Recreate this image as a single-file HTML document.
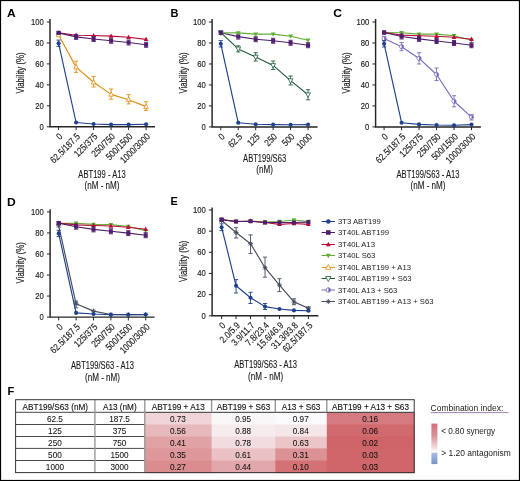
<!DOCTYPE html>
<html><head><meta charset="utf-8"><style>
html,body{margin:0;padding:0;background:#fff;}
svg{display:block;font-family:"Liberation Sans", sans-serif;will-change:transform;}
</style></head><body>
<svg width="520" height="481" viewBox="0 0 520 481">
<rect x="0" y="0" width="520" height="481" fill="#fff"/>
<text transform="translate(7.0,17) scale(1.1,1)" font-size="11" font-weight="bold" fill="#000">A</text>
<path d="M50 19V126.8H155" stroke="#262626" stroke-width="1.45" fill="none"/>
<text transform="translate(43.7,129.55) scale(0.8,1)" text-anchor="end" font-size="9.6" fill="#1a1a1a" stroke="#1a1a1a" stroke-width="0.15">0</text>
<text transform="translate(43.7,108.59) scale(0.8,1)" text-anchor="end" font-size="9.6" fill="#1a1a1a" stroke="#1a1a1a" stroke-width="0.15">20</text>
<text transform="translate(43.7,87.63) scale(0.8,1)" text-anchor="end" font-size="9.6" fill="#1a1a1a" stroke="#1a1a1a" stroke-width="0.15">40</text>
<text transform="translate(43.7,66.67) scale(0.8,1)" text-anchor="end" font-size="9.6" fill="#1a1a1a" stroke="#1a1a1a" stroke-width="0.15">60</text>
<text transform="translate(43.7,45.71) scale(0.8,1)" text-anchor="end" font-size="9.6" fill="#1a1a1a" stroke="#1a1a1a" stroke-width="0.15">80</text>
<text transform="translate(43.7,24.75) scale(0.8,1)" text-anchor="end" font-size="9.6" fill="#1a1a1a" stroke="#1a1a1a" stroke-width="0.15">100</text>
<path d="M46.8 126.8H50M46.8 105.84H50M46.8 84.88H50M46.8 63.92H50M46.8 42.96H50M46.8 22H50M58.6 126.8V130.1M76.1 126.8V130.1M93.6 126.8V130.1M111.1 126.8V130.1M128.6 126.8V130.1M146.1 126.8V130.1" stroke="#262626" stroke-width="1.0" fill="none"/>
<text transform="translate(63.2,137.2) rotate(-45) scale(0.83,1)" text-anchor="end" font-size="9.6" fill="#1a1a1a" stroke="#1a1a1a" stroke-width="0.15">0</text>
<text transform="translate(80.7,137.2) rotate(-45) scale(0.83,1)" text-anchor="end" font-size="9.6" fill="#1a1a1a" stroke="#1a1a1a" stroke-width="0.15">62.5/187.5</text>
<text transform="translate(98.2,137.2) rotate(-45) scale(0.83,1)" text-anchor="end" font-size="9.6" fill="#1a1a1a" stroke="#1a1a1a" stroke-width="0.15">125/375</text>
<text transform="translate(115.7,137.2) rotate(-45) scale(0.83,1)" text-anchor="end" font-size="9.6" fill="#1a1a1a" stroke="#1a1a1a" stroke-width="0.15">250/750</text>
<text transform="translate(133.2,137.2) rotate(-45) scale(0.83,1)" text-anchor="end" font-size="9.6" fill="#1a1a1a" stroke="#1a1a1a" stroke-width="0.15">500/1500</text>
<text transform="translate(150.7,137.2) rotate(-45) scale(0.83,1)" text-anchor="end" font-size="9.6" fill="#1a1a1a" stroke="#1a1a1a" stroke-width="0.15">1000/3000</text>
<text transform="translate(102,177.5) scale(0.76,1)" text-anchor="middle" font-size="10" fill="#1a1a1a" stroke="#1a1a1a" stroke-width="0.12">ABT199 - A13</text>
<text transform="translate(102,189.3) scale(0.81,1)" text-anchor="middle" font-size="10" fill="#1a1a1a" stroke="#1a1a1a" stroke-width="0.12">(nM - nM)</text>
<text transform="translate(24.2,73) rotate(-90) scale(0.755,1)" text-anchor="middle" font-size="10.4" fill="#1a1a1a" stroke="#1a1a1a" stroke-width="0.18">Viability (%)</text>
<polyline points="58.6,32.9 76.1,35.2 93.6,35.5 111.1,36.1 128.6,37.3 146.1,39.4" fill="none" stroke="#ba0c38" stroke-width="1.15" stroke-linejoin="round"/>
<path d="M58.6 30.32L60.95 34.62L56.25 34.62Z" fill="#ba0c38"/>
<path d="M76.1 32.62L78.45 36.92L73.75 36.92Z" fill="#ba0c38"/>
<path d="M93.6 32.92L95.95 37.22L91.25 37.22Z" fill="#ba0c38"/>
<path d="M111.1 33.52L113.45 37.82L108.75 37.82Z" fill="#ba0c38"/>
<path d="M128.6 34.72L130.95 39.02L126.25 39.02Z" fill="#ba0c38"/>
<path d="M146.1 36.82L148.45 41.12L143.75 41.12Z" fill="#ba0c38"/>
<polyline points="58.6,32.9 76.1,36.9 93.6,39 111.1,40.8 128.6,42.5 146.1,44.8" fill="none" stroke="#501e6e" stroke-width="1.15" stroke-linejoin="round"/>
<path d="M76.1 34.4V39.4M74 34.4H78.2M74 39.4H78.2" stroke="#501e6e" stroke-width="0.9" fill="none"/>
<path d="M93.6 36.5V41.5M91.5 36.5H95.7M91.5 41.5H95.7" stroke="#501e6e" stroke-width="0.9" fill="none"/>
<path d="M111.1 38.3V43.3M109 38.3H113.2M109 43.3H113.2" stroke="#501e6e" stroke-width="0.9" fill="none"/>
<path d="M128.6 40V45M126.5 40H130.7M126.5 45H130.7" stroke="#501e6e" stroke-width="0.9" fill="none"/>
<path d="M146.1 42.3V47.3M144 42.3H148.2M144 47.3H148.2" stroke="#501e6e" stroke-width="0.9" fill="none"/>
<rect x="56.6" y="30.9" width="4.0" height="4.0" fill="#501e6e"/>
<rect x="74.1" y="34.9" width="4.0" height="4.0" fill="#501e6e"/>
<rect x="91.6" y="37" width="4.0" height="4.0" fill="#501e6e"/>
<rect x="109.1" y="38.8" width="4.0" height="4.0" fill="#501e6e"/>
<rect x="126.6" y="40.5" width="4.0" height="4.0" fill="#501e6e"/>
<rect x="144.1" y="42.8" width="4.0" height="4.0" fill="#501e6e"/>
<polyline points="58.6,35 76.1,67.1 93.6,82.3 111.1,94.4 128.6,99.7 146.1,106.6" fill="none" stroke="#df8d12" stroke-width="1.15" stroke-linejoin="round"/>
<path d="M76.1 61.2V72.4M74 61.2H78.2M74 72.4H78.2" stroke="#df8d12" stroke-width="0.9" fill="none"/>
<path d="M93.6 76.4V87M91.5 76.4H95.7M91.5 87H95.7" stroke="#df8d12" stroke-width="0.9" fill="none"/>
<path d="M111.1 89V99.2M109 89H113.2M109 99.2H113.2" stroke="#df8d12" stroke-width="0.9" fill="none"/>
<path d="M128.6 94.6V103.9M126.5 94.6H130.7M126.5 103.9H130.7" stroke="#df8d12" stroke-width="0.9" fill="none"/>
<path d="M146.1 101.8V110.4M144 101.8H148.2M144 110.4H148.2" stroke="#df8d12" stroke-width="0.9" fill="none"/>
<path d="M58.6 32.36L60.95 36.76L56.25 36.76Z" fill="#fff" stroke="#df8d12" stroke-width="0.8"/>
<path d="M76.1 64.46L78.45 68.86L73.75 68.86Z" fill="#fff" stroke="#df8d12" stroke-width="0.8"/>
<path d="M93.6 79.66L95.95 84.06L91.25 84.06Z" fill="#fff" stroke="#df8d12" stroke-width="0.8"/>
<path d="M111.1 91.76L113.45 96.16L108.75 96.16Z" fill="#fff" stroke="#df8d12" stroke-width="0.8"/>
<path d="M128.6 97.06L130.95 101.46L126.25 101.46Z" fill="#fff" stroke="#df8d12" stroke-width="0.8"/>
<path d="M146.1 103.96L148.45 108.36L143.75 108.36Z" fill="#fff" stroke="#df8d12" stroke-width="0.8"/>
<polyline points="58.6,43.3 76.1,122.5 93.6,124 111.1,124.6 128.6,124.6 146.1,124.2" fill="none" stroke="#1f408c" stroke-width="1.15" stroke-linejoin="round"/>
<path d="M58.6 40.1V46.4M56.5 40.1H60.7M56.5 46.4H60.7" stroke="#1f408c" stroke-width="0.9" fill="none"/>
<circle cx="58.6" cy="43.3" r="2.05" fill="#1f408c"/>
<circle cx="76.1" cy="122.5" r="2.05" fill="#1f408c"/>
<circle cx="93.6" cy="124" r="2.05" fill="#1f408c"/>
<circle cx="111.1" cy="124.6" r="2.05" fill="#1f408c"/>
<circle cx="128.6" cy="124.6" r="2.05" fill="#1f408c"/>
<circle cx="146.1" cy="124.2" r="2.05" fill="#1f408c"/>
<rect x="56.6" y="30.9" width="4.0" height="4.0" fill="#501e6e"/>
<text transform="translate(170.6,17) scale(1.0,1)" font-size="11" font-weight="bold" fill="#000">B</text>
<path d="M212.1 19V126.9H317.6" stroke="#262626" stroke-width="1.45" fill="none"/>
<text transform="translate(205.8,129.65) scale(0.8,1)" text-anchor="end" font-size="9.6" fill="#1a1a1a" stroke="#1a1a1a" stroke-width="0.15">0</text>
<text transform="translate(205.8,108.67) scale(0.8,1)" text-anchor="end" font-size="9.6" fill="#1a1a1a" stroke="#1a1a1a" stroke-width="0.15">20</text>
<text transform="translate(205.8,87.69) scale(0.8,1)" text-anchor="end" font-size="9.6" fill="#1a1a1a" stroke="#1a1a1a" stroke-width="0.15">40</text>
<text transform="translate(205.8,66.71) scale(0.8,1)" text-anchor="end" font-size="9.6" fill="#1a1a1a" stroke="#1a1a1a" stroke-width="0.15">60</text>
<text transform="translate(205.8,45.73) scale(0.8,1)" text-anchor="end" font-size="9.6" fill="#1a1a1a" stroke="#1a1a1a" stroke-width="0.15">80</text>
<text transform="translate(205.8,24.75) scale(0.8,1)" text-anchor="end" font-size="9.6" fill="#1a1a1a" stroke="#1a1a1a" stroke-width="0.15">100</text>
<path d="M208.9 126.9H212.1M208.9 105.92H212.1M208.9 84.94H212.1M208.9 63.96H212.1M208.9 42.98H212.1M208.9 22H212.1M220.8 126.9V130.2M238.25 126.9V130.2M255.7 126.9V130.2M273.15 126.9V130.2M290.6 126.9V130.2M308.05 126.9V130.2" stroke="#262626" stroke-width="1.0" fill="none"/>
<text transform="translate(225.4,137.3) rotate(-45) scale(0.83,1)" text-anchor="end" font-size="9.6" fill="#1a1a1a" stroke="#1a1a1a" stroke-width="0.15">0</text>
<text transform="translate(242.85,137.3) rotate(-45) scale(0.83,1)" text-anchor="end" font-size="9.6" fill="#1a1a1a" stroke="#1a1a1a" stroke-width="0.15">62.5</text>
<text transform="translate(260.3,137.3) rotate(-45) scale(0.83,1)" text-anchor="end" font-size="9.6" fill="#1a1a1a" stroke="#1a1a1a" stroke-width="0.15">125</text>
<text transform="translate(277.75,137.3) rotate(-45) scale(0.83,1)" text-anchor="end" font-size="9.6" fill="#1a1a1a" stroke="#1a1a1a" stroke-width="0.15">250</text>
<text transform="translate(295.2,137.3) rotate(-45) scale(0.83,1)" text-anchor="end" font-size="9.6" fill="#1a1a1a" stroke="#1a1a1a" stroke-width="0.15">500</text>
<text transform="translate(312.65,137.3) rotate(-45) scale(0.83,1)" text-anchor="end" font-size="9.6" fill="#1a1a1a" stroke="#1a1a1a" stroke-width="0.15">1000</text>
<text transform="translate(264.6,161.6) scale(0.76,1)" text-anchor="middle" font-size="10" fill="#1a1a1a" stroke="#1a1a1a" stroke-width="0.12">ABT199/S63</text>
<text transform="translate(264.6,173.3) scale(0.81,1)" text-anchor="middle" font-size="10" fill="#1a1a1a" stroke="#1a1a1a" stroke-width="0.12">(nM)</text>
<text transform="translate(186.7,73) rotate(-90) scale(0.755,1)" text-anchor="middle" font-size="10.4" fill="#1a1a1a" stroke="#1a1a1a" stroke-width="0.18">Viability (%)</text>
<polyline points="220.8,32.7 238.25,48.9 255.7,57 273.15,65.4 290.6,80.6 308.05,94.7" fill="none" stroke="#225c3c" stroke-width="1.15" stroke-linejoin="round"/>
<path d="M238.25 45.8V51.9M236.15 45.8H240.35M236.15 51.9H240.35" stroke="#225c3c" stroke-width="0.9" fill="none"/>
<path d="M255.7 52.7V61M253.6 52.7H257.8M253.6 61H257.8" stroke="#225c3c" stroke-width="0.9" fill="none"/>
<path d="M273.15 61V69.5M271.05 61H275.25M271.05 69.5H275.25" stroke="#225c3c" stroke-width="0.9" fill="none"/>
<path d="M290.6 76V85M288.5 76H292.7M288.5 85H292.7" stroke="#225c3c" stroke-width="0.9" fill="none"/>
<path d="M308.05 89.7V99.8M305.95 89.7H310.15M305.95 99.8H310.15" stroke="#225c3c" stroke-width="0.9" fill="none"/>
<path d="M220.8 35.4L223.2 30.9L218.4 30.9Z" fill="#fff" stroke="#225c3c" stroke-width="0.8"/>
<path d="M238.25 51.6L240.65 47.1L235.85 47.1Z" fill="#fff" stroke="#225c3c" stroke-width="0.8"/>
<path d="M255.7 59.7L258.1 55.2L253.3 55.2Z" fill="#fff" stroke="#225c3c" stroke-width="0.8"/>
<path d="M273.15 68.1L275.55 63.6L270.75 63.6Z" fill="#fff" stroke="#225c3c" stroke-width="0.8"/>
<path d="M290.6 83.3L293 78.8L288.2 78.8Z" fill="#fff" stroke="#225c3c" stroke-width="0.8"/>
<path d="M308.05 97.4L310.45 92.9L305.65 92.9Z" fill="#fff" stroke="#225c3c" stroke-width="0.8"/>
<polyline points="220.8,32.7 238.25,36.6 255.7,39.2 273.15,40.8 290.6,42.8 308.05,45.2" fill="none" stroke="#501e6e" stroke-width="1.15" stroke-linejoin="round"/>
<path d="M238.25 34.1V39.1M236.15 34.1H240.35M236.15 39.1H240.35" stroke="#501e6e" stroke-width="0.9" fill="none"/>
<path d="M255.7 36.7V41.7M253.6 36.7H257.8M253.6 41.7H257.8" stroke="#501e6e" stroke-width="0.9" fill="none"/>
<path d="M273.15 38.3V43.3M271.05 38.3H275.25M271.05 43.3H275.25" stroke="#501e6e" stroke-width="0.9" fill="none"/>
<path d="M290.6 40.3V45.3M288.5 40.3H292.7M288.5 45.3H292.7" stroke="#501e6e" stroke-width="0.9" fill="none"/>
<path d="M308.05 42.7V47.7M305.95 42.7H310.15M305.95 47.7H310.15" stroke="#501e6e" stroke-width="0.9" fill="none"/>
<rect x="218.8" y="30.7" width="4.0" height="4.0" fill="#501e6e"/>
<rect x="236.25" y="34.6" width="4.0" height="4.0" fill="#501e6e"/>
<rect x="253.7" y="37.2" width="4.0" height="4.0" fill="#501e6e"/>
<rect x="271.15" y="38.8" width="4.0" height="4.0" fill="#501e6e"/>
<rect x="288.6" y="40.8" width="4.0" height="4.0" fill="#501e6e"/>
<rect x="306.05" y="43.2" width="4.0" height="4.0" fill="#501e6e"/>
<polyline points="220.8,32.7 238.25,32.9 255.7,34.1 273.15,34.1 290.6,36.2 308.05,40.2" fill="none" stroke="#5fb035" stroke-width="1.15" stroke-linejoin="round"/>
<path d="M220.8 35.28L223.15 30.98L218.45 30.98Z" fill="#5fb035"/>
<path d="M238.25 35.48L240.6 31.18L235.9 31.18Z" fill="#5fb035"/>
<path d="M255.7 36.68L258.05 32.38L253.35 32.38Z" fill="#5fb035"/>
<path d="M273.15 36.68L275.5 32.38L270.8 32.38Z" fill="#5fb035"/>
<path d="M290.6 38.78L292.95 34.48L288.25 34.48Z" fill="#5fb035"/>
<path d="M308.05 42.78L310.4 38.48L305.7 38.48Z" fill="#5fb035"/>
<polyline points="220.8,43.8 238.25,122.8 255.7,124.2 273.15,124.6 290.6,124.8 308.05,124.6" fill="none" stroke="#1f408c" stroke-width="1.15" stroke-linejoin="round"/>
<path d="M220.8 40.6V47M218.7 40.6H222.9M218.7 47H222.9" stroke="#1f408c" stroke-width="0.9" fill="none"/>
<circle cx="220.8" cy="43.8" r="2.05" fill="#1f408c"/>
<circle cx="238.25" cy="122.8" r="2.05" fill="#1f408c"/>
<circle cx="255.7" cy="124.2" r="2.05" fill="#1f408c"/>
<circle cx="273.15" cy="124.6" r="2.05" fill="#1f408c"/>
<circle cx="290.6" cy="124.8" r="2.05" fill="#1f408c"/>
<circle cx="308.05" cy="124.6" r="2.05" fill="#1f408c"/>
<rect x="218.8" y="30.7" width="4.0" height="4.0" fill="#501e6e"/>
<text transform="translate(333.3,17) scale(1.1,1)" font-size="11" font-weight="bold" fill="#000">C</text>
<path d="M375.6 19V126.9H480.9" stroke="#262626" stroke-width="1.45" fill="none"/>
<text transform="translate(369.3,129.65) scale(0.8,1)" text-anchor="end" font-size="9.6" fill="#1a1a1a" stroke="#1a1a1a" stroke-width="0.15">0</text>
<text transform="translate(369.3,108.67) scale(0.8,1)" text-anchor="end" font-size="9.6" fill="#1a1a1a" stroke="#1a1a1a" stroke-width="0.15">20</text>
<text transform="translate(369.3,87.69) scale(0.8,1)" text-anchor="end" font-size="9.6" fill="#1a1a1a" stroke="#1a1a1a" stroke-width="0.15">40</text>
<text transform="translate(369.3,66.71) scale(0.8,1)" text-anchor="end" font-size="9.6" fill="#1a1a1a" stroke="#1a1a1a" stroke-width="0.15">60</text>
<text transform="translate(369.3,45.73) scale(0.8,1)" text-anchor="end" font-size="9.6" fill="#1a1a1a" stroke="#1a1a1a" stroke-width="0.15">80</text>
<text transform="translate(369.3,24.75) scale(0.8,1)" text-anchor="end" font-size="9.6" fill="#1a1a1a" stroke="#1a1a1a" stroke-width="0.15">100</text>
<path d="M372.4 126.9H375.6M372.4 105.92H375.6M372.4 84.94H375.6M372.4 63.96H375.6M372.4 42.98H375.6M372.4 22H375.6M384.1 126.9V130.2M401.58 126.9V130.2M419.06 126.9V130.2M436.54 126.9V130.2M454.02 126.9V130.2M471.5 126.9V130.2" stroke="#262626" stroke-width="1.0" fill="none"/>
<text transform="translate(388.7,137.3) rotate(-45) scale(0.83,1)" text-anchor="end" font-size="9.6" fill="#1a1a1a" stroke="#1a1a1a" stroke-width="0.15">0</text>
<text transform="translate(406.18,137.3) rotate(-45) scale(0.83,1)" text-anchor="end" font-size="9.6" fill="#1a1a1a" stroke="#1a1a1a" stroke-width="0.15">62.5/187.5</text>
<text transform="translate(423.66,137.3) rotate(-45) scale(0.83,1)" text-anchor="end" font-size="9.6" fill="#1a1a1a" stroke="#1a1a1a" stroke-width="0.15">125/375</text>
<text transform="translate(441.14,137.3) rotate(-45) scale(0.83,1)" text-anchor="end" font-size="9.6" fill="#1a1a1a" stroke="#1a1a1a" stroke-width="0.15">250/750</text>
<text transform="translate(458.62,137.3) rotate(-45) scale(0.83,1)" text-anchor="end" font-size="9.6" fill="#1a1a1a" stroke="#1a1a1a" stroke-width="0.15">500/1500</text>
<text transform="translate(476.1,137.3) rotate(-45) scale(0.83,1)" text-anchor="end" font-size="9.6" fill="#1a1a1a" stroke="#1a1a1a" stroke-width="0.15">1000/3000</text>
<text transform="translate(428,177.5) scale(0.76,1)" text-anchor="middle" font-size="10" fill="#1a1a1a" stroke="#1a1a1a" stroke-width="0.12">ABT199/S63 - A13</text>
<text transform="translate(428,189.3) scale(0.81,1)" text-anchor="middle" font-size="10" fill="#1a1a1a" stroke="#1a1a1a" stroke-width="0.12">(nM - nM)</text>
<text transform="translate(350.2,73) rotate(-90) scale(0.755,1)" text-anchor="middle" font-size="10.4" fill="#1a1a1a" stroke="#1a1a1a" stroke-width="0.18">Viability (%)</text>
<polyline points="384.1,38.6 401.58,46.7 419.06,58.4 436.54,74.5 454.02,101.3 471.5,117.1" fill="none" stroke="#7a69bd" stroke-width="1.15" stroke-linejoin="round"/>
<path d="M384.1 36.3V41M382 36.3H386.2M382 41H386.2" stroke="#7a69bd" stroke-width="0.9" fill="none"/>
<path d="M401.58 42.6V50.7M399.48 42.6H403.68M399.48 50.7H403.68" stroke="#7a69bd" stroke-width="0.9" fill="none"/>
<path d="M419.06 52.7V64M416.96 52.7H421.16M416.96 64H421.16" stroke="#7a69bd" stroke-width="0.9" fill="none"/>
<path d="M436.54 68V80.6M434.44 68H438.64M434.44 80.6H438.64" stroke="#7a69bd" stroke-width="0.9" fill="none"/>
<path d="M454.02 95.7V106.8M451.92 95.7H456.12M451.92 106.8H456.12" stroke="#7a69bd" stroke-width="0.9" fill="none"/>
<path d="M471.5 114.6V120M469.4 114.6H473.6M469.4 120H473.6" stroke="#7a69bd" stroke-width="0.9" fill="none"/>
<circle cx="384.1" cy="38.6" r="2.1" fill="#fff" stroke="#7a69bd" stroke-width="0.8"/>
<path d="M384.1 36.5A2.1 2.1 0 0 1 384.1 40.7Z" fill="#7a69bd"/>
<circle cx="401.58" cy="46.7" r="2.1" fill="#fff" stroke="#7a69bd" stroke-width="0.8"/>
<path d="M401.58 44.6A2.1 2.1 0 0 1 401.58 48.8Z" fill="#7a69bd"/>
<circle cx="419.06" cy="58.4" r="2.1" fill="#fff" stroke="#7a69bd" stroke-width="0.8"/>
<path d="M419.06 56.3A2.1 2.1 0 0 1 419.06 60.5Z" fill="#7a69bd"/>
<circle cx="436.54" cy="74.5" r="2.1" fill="#fff" stroke="#7a69bd" stroke-width="0.8"/>
<path d="M436.54 72.4A2.1 2.1 0 0 1 436.54 76.6Z" fill="#7a69bd"/>
<circle cx="454.02" cy="101.3" r="2.1" fill="#fff" stroke="#7a69bd" stroke-width="0.8"/>
<path d="M454.02 99.2A2.1 2.1 0 0 1 454.02 103.4Z" fill="#7a69bd"/>
<circle cx="471.5" cy="117.1" r="2.1" fill="#fff" stroke="#7a69bd" stroke-width="0.8"/>
<path d="M471.5 115A2.1 2.1 0 0 1 471.5 119.2Z" fill="#7a69bd"/>
<polyline points="384.1,32.5 401.58,32.7 419.06,34.1 436.54,34.1 454.02,35.8 471.5,40.2" fill="none" stroke="#5fb035" stroke-width="1.15" stroke-linejoin="round"/>
<path d="M384.1 35.08L386.45 30.78L381.75 30.78Z" fill="#5fb035"/>
<path d="M401.58 35.28L403.93 30.98L399.23 30.98Z" fill="#5fb035"/>
<path d="M419.06 36.68L421.41 32.38L416.71 32.38Z" fill="#5fb035"/>
<path d="M436.54 36.68L438.89 32.38L434.19 32.38Z" fill="#5fb035"/>
<path d="M454.02 38.38L456.37 34.08L451.67 34.08Z" fill="#5fb035"/>
<path d="M471.5 42.78L473.85 38.48L469.15 38.48Z" fill="#5fb035"/>
<polyline points="384.1,32.5 401.58,35.1 419.06,35.8 436.54,36.2 454.02,37.2 471.5,39.2" fill="none" stroke="#ba0c38" stroke-width="1.15" stroke-linejoin="round"/>
<path d="M384.1 29.92L386.45 34.22L381.75 34.22Z" fill="#ba0c38"/>
<path d="M401.58 32.52L403.93 36.82L399.23 36.82Z" fill="#ba0c38"/>
<path d="M419.06 33.22L421.41 37.52L416.71 37.52Z" fill="#ba0c38"/>
<path d="M436.54 33.62L438.89 37.92L434.19 37.92Z" fill="#ba0c38"/>
<path d="M454.02 34.62L456.37 38.92L451.67 38.92Z" fill="#ba0c38"/>
<path d="M471.5 36.62L473.85 40.92L469.15 40.92Z" fill="#ba0c38"/>
<polyline points="384.1,32.5 401.58,36.5 419.06,38.9 436.54,41 454.02,43 471.5,45.2" fill="none" stroke="#501e6e" stroke-width="1.15" stroke-linejoin="round"/>
<path d="M401.58 34V39M399.48 34H403.68M399.48 39H403.68" stroke="#501e6e" stroke-width="0.9" fill="none"/>
<path d="M419.06 36.4V41.4M416.96 36.4H421.16M416.96 41.4H421.16" stroke="#501e6e" stroke-width="0.9" fill="none"/>
<path d="M436.54 38.5V43.5M434.44 38.5H438.64M434.44 43.5H438.64" stroke="#501e6e" stroke-width="0.9" fill="none"/>
<path d="M454.02 40.5V45.5M451.92 40.5H456.12M451.92 45.5H456.12" stroke="#501e6e" stroke-width="0.9" fill="none"/>
<path d="M471.5 42.7V47.7M469.4 42.7H473.6M469.4 47.7H473.6" stroke="#501e6e" stroke-width="0.9" fill="none"/>
<rect x="382.1" y="30.5" width="4.0" height="4.0" fill="#501e6e"/>
<rect x="399.58" y="34.5" width="4.0" height="4.0" fill="#501e6e"/>
<rect x="417.06" y="36.9" width="4.0" height="4.0" fill="#501e6e"/>
<rect x="434.54" y="39" width="4.0" height="4.0" fill="#501e6e"/>
<rect x="452.02" y="41" width="4.0" height="4.0" fill="#501e6e"/>
<rect x="469.5" y="43.2" width="4.0" height="4.0" fill="#501e6e"/>
<polyline points="384.1,43.8 401.58,122.7 419.06,124.4 436.54,125 454.02,125.2 471.5,124.6" fill="none" stroke="#1f408c" stroke-width="1.15" stroke-linejoin="round"/>
<path d="M384.1 40.6V47M382 40.6H386.2M382 47H386.2" stroke="#1f408c" stroke-width="0.9" fill="none"/>
<circle cx="384.1" cy="43.8" r="2.05" fill="#1f408c"/>
<circle cx="401.58" cy="122.7" r="2.05" fill="#1f408c"/>
<circle cx="419.06" cy="124.4" r="2.05" fill="#1f408c"/>
<circle cx="436.54" cy="125" r="2.05" fill="#1f408c"/>
<circle cx="454.02" cy="125.2" r="2.05" fill="#1f408c"/>
<circle cx="471.5" cy="124.6" r="2.05" fill="#1f408c"/>
<rect x="382.1" y="30.5" width="4.0" height="4.0" fill="#501e6e"/>
<text transform="translate(7.1,205.8) scale(1.1,1)" font-size="11" font-weight="bold" fill="#000">D</text>
<path d="M50.1 209.3V317.1H154.5" stroke="#262626" stroke-width="1.45" fill="none"/>
<text transform="translate(43.8,319.85) scale(0.8,1)" text-anchor="end" font-size="9.6" fill="#1a1a1a" stroke="#1a1a1a" stroke-width="0.15">0</text>
<text transform="translate(43.8,298.81) scale(0.8,1)" text-anchor="end" font-size="9.6" fill="#1a1a1a" stroke="#1a1a1a" stroke-width="0.15">20</text>
<text transform="translate(43.8,277.77) scale(0.8,1)" text-anchor="end" font-size="9.6" fill="#1a1a1a" stroke="#1a1a1a" stroke-width="0.15">40</text>
<text transform="translate(43.8,256.73) scale(0.8,1)" text-anchor="end" font-size="9.6" fill="#1a1a1a" stroke="#1a1a1a" stroke-width="0.15">60</text>
<text transform="translate(43.8,235.69) scale(0.8,1)" text-anchor="end" font-size="9.6" fill="#1a1a1a" stroke="#1a1a1a" stroke-width="0.15">80</text>
<text transform="translate(43.8,214.65) scale(0.8,1)" text-anchor="end" font-size="9.6" fill="#1a1a1a" stroke="#1a1a1a" stroke-width="0.15">100</text>
<path d="M46.9 317.1H50.1M46.9 296.06H50.1M46.9 275.02H50.1M46.9 253.98H50.1M46.9 232.94H50.1M46.9 211.9H50.1M58.7 317.1V320.4M76.1 317.1V320.4M93.5 317.1V320.4M110.9 317.1V320.4M128.3 317.1V320.4M145.7 317.1V320.4" stroke="#262626" stroke-width="1.0" fill="none"/>
<text transform="translate(63.3,327.5) rotate(-45) scale(0.83,1)" text-anchor="end" font-size="9.6" fill="#1a1a1a" stroke="#1a1a1a" stroke-width="0.15">0</text>
<text transform="translate(80.7,327.5) rotate(-45) scale(0.83,1)" text-anchor="end" font-size="9.6" fill="#1a1a1a" stroke="#1a1a1a" stroke-width="0.15">62.5/187.5</text>
<text transform="translate(98.1,327.5) rotate(-45) scale(0.83,1)" text-anchor="end" font-size="9.6" fill="#1a1a1a" stroke="#1a1a1a" stroke-width="0.15">125/375</text>
<text transform="translate(115.5,327.5) rotate(-45) scale(0.83,1)" text-anchor="end" font-size="9.6" fill="#1a1a1a" stroke="#1a1a1a" stroke-width="0.15">250/750</text>
<text transform="translate(132.9,327.5) rotate(-45) scale(0.83,1)" text-anchor="end" font-size="9.6" fill="#1a1a1a" stroke="#1a1a1a" stroke-width="0.15">500/1500</text>
<text transform="translate(150.3,327.5) rotate(-45) scale(0.83,1)" text-anchor="end" font-size="9.6" fill="#1a1a1a" stroke="#1a1a1a" stroke-width="0.15">1000/3000</text>
<text transform="translate(102.5,369) scale(0.76,1)" text-anchor="middle" font-size="10" fill="#1a1a1a" stroke="#1a1a1a" stroke-width="0.12">ABT199/S63 - A13</text>
<text transform="translate(102.5,380.6) scale(0.81,1)" text-anchor="middle" font-size="10" fill="#1a1a1a" stroke="#1a1a1a" stroke-width="0.12">(nM - nM)</text>
<text transform="translate(24.4,262.8) rotate(-90) scale(0.755,1)" text-anchor="middle" font-size="10.4" fill="#1a1a1a" stroke="#1a1a1a" stroke-width="0.18">Viability (%)</text>
<polyline points="58.7,223.3 76.1,223.3 93.5,224.4 110.9,224.6 128.3,226.5 145.7,230.6" fill="none" stroke="#5fb035" stroke-width="1.15" stroke-linejoin="round"/>
<path d="M58.7 225.88L61.05 221.58L56.35 221.58Z" fill="#5fb035"/>
<path d="M76.1 225.88L78.45 221.58L73.75 221.58Z" fill="#5fb035"/>
<path d="M93.5 226.98L95.85 222.68L91.15 222.68Z" fill="#5fb035"/>
<path d="M110.9 227.18L113.25 222.88L108.55 222.88Z" fill="#5fb035"/>
<path d="M128.3 229.08L130.65 224.78L125.95 224.78Z" fill="#5fb035"/>
<path d="M145.7 233.18L148.05 228.88L143.35 228.88Z" fill="#5fb035"/>
<polyline points="58.7,223.1 76.1,224.9 93.5,225.5 110.9,226 128.3,227.2 145.7,229.2" fill="none" stroke="#ba0c38" stroke-width="1.15" stroke-linejoin="round"/>
<path d="M58.7 220.52L61.05 224.82L56.35 224.82Z" fill="#ba0c38"/>
<path d="M76.1 222.32L78.45 226.62L73.75 226.62Z" fill="#ba0c38"/>
<path d="M93.5 222.92L95.85 227.22L91.15 227.22Z" fill="#ba0c38"/>
<path d="M110.9 223.42L113.25 227.72L108.55 227.72Z" fill="#ba0c38"/>
<path d="M128.3 224.62L130.65 228.92L125.95 228.92Z" fill="#ba0c38"/>
<path d="M145.7 226.62L148.05 230.92L143.35 230.92Z" fill="#ba0c38"/>
<polyline points="58.7,223.1 76.1,226.7 93.5,229.4 110.9,231.3 128.3,233.1 145.7,235.2" fill="none" stroke="#501e6e" stroke-width="1.15" stroke-linejoin="round"/>
<path d="M76.1 224.2V229.2M74 224.2H78.2M74 229.2H78.2" stroke="#501e6e" stroke-width="0.9" fill="none"/>
<path d="M93.5 226.9V231.9M91.4 226.9H95.6M91.4 231.9H95.6" stroke="#501e6e" stroke-width="0.9" fill="none"/>
<path d="M110.9 228.8V233.8M108.8 228.8H113M108.8 233.8H113" stroke="#501e6e" stroke-width="0.9" fill="none"/>
<path d="M128.3 230.6V235.6M126.2 230.6H130.4M126.2 235.6H130.4" stroke="#501e6e" stroke-width="0.9" fill="none"/>
<path d="M145.7 232.7V237.7M143.6 232.7H147.8M143.6 237.7H147.8" stroke="#501e6e" stroke-width="0.9" fill="none"/>
<rect x="56.7" y="221.1" width="4.0" height="4.0" fill="#501e6e"/>
<rect x="74.1" y="224.7" width="4.0" height="4.0" fill="#501e6e"/>
<rect x="91.5" y="227.4" width="4.0" height="4.0" fill="#501e6e"/>
<rect x="108.9" y="229.3" width="4.0" height="4.0" fill="#501e6e"/>
<rect x="126.3" y="231.1" width="4.0" height="4.0" fill="#501e6e"/>
<rect x="143.7" y="233.2" width="4.0" height="4.0" fill="#501e6e"/>
<polyline points="58.7,225.8 76.1,303.8 93.5,311.1 110.9,314.5 128.3,314.6 145.7,314.5" fill="none" stroke="#454d5e" stroke-width="1.15" stroke-linejoin="round"/>
<path d="M76.1 301V307.9M74 301H78.2M74 307.9H78.2" stroke="#454d5e" stroke-width="0.9" fill="none"/>
<path d="M56.2 225.8L61.2 225.8M56.93 224.03L60.47 227.57M58.7 223.3L58.7 228.3M60.47 224.03L56.93 227.57" stroke="#454d5e" stroke-width="0.9" fill="none"/>
<circle cx="58.7" cy="225.8" r="1.1" fill="#454d5e"/>
<path d="M73.6 303.8L78.6 303.8M74.33 302.03L77.87 305.57M76.1 301.3L76.1 306.3M77.87 302.03L74.33 305.57" stroke="#454d5e" stroke-width="0.9" fill="none"/>
<circle cx="76.1" cy="303.8" r="1.1" fill="#454d5e"/>
<path d="M91 311.1L96 311.1M91.73 309.33L95.27 312.87M93.5 308.6L93.5 313.6M95.27 309.33L91.73 312.87" stroke="#454d5e" stroke-width="0.9" fill="none"/>
<circle cx="93.5" cy="311.1" r="1.1" fill="#454d5e"/>
<path d="M108.4 314.5L113.4 314.5M109.13 312.73L112.67 316.27M110.9 312L110.9 317M112.67 312.73L109.13 316.27" stroke="#454d5e" stroke-width="0.9" fill="none"/>
<circle cx="110.9" cy="314.5" r="1.1" fill="#454d5e"/>
<path d="M125.8 314.6L130.8 314.6M126.53 312.83L130.07 316.37M128.3 312.1L128.3 317.1M130.07 312.83L126.53 316.37" stroke="#454d5e" stroke-width="0.9" fill="none"/>
<circle cx="128.3" cy="314.6" r="1.1" fill="#454d5e"/>
<path d="M143.2 314.5L148.2 314.5M143.93 312.73L147.47 316.27M145.7 312L145.7 317M147.47 312.73L143.93 316.27" stroke="#454d5e" stroke-width="0.9" fill="none"/>
<circle cx="145.7" cy="314.5" r="1.1" fill="#454d5e"/>
<polyline points="58.7,233.4 76.1,312.9 93.5,314 110.9,314.7 128.3,314.8 145.7,314.6" fill="none" stroke="#1f408c" stroke-width="1.15" stroke-linejoin="round"/>
<path d="M58.7 230.3V236.6M56.6 230.3H60.8M56.6 236.6H60.8" stroke="#1f408c" stroke-width="0.9" fill="none"/>
<circle cx="58.7" cy="233.4" r="2.05" fill="#1f408c"/>
<circle cx="76.1" cy="312.9" r="2.05" fill="#1f408c"/>
<circle cx="93.5" cy="314" r="2.05" fill="#1f408c"/>
<circle cx="110.9" cy="314.7" r="2.05" fill="#1f408c"/>
<circle cx="128.3" cy="314.8" r="2.05" fill="#1f408c"/>
<circle cx="145.7" cy="314.6" r="2.05" fill="#1f408c"/>
<rect x="56.7" y="221.1" width="4.0" height="4.0" fill="#501e6e"/>
<text transform="translate(170.4,205.3) scale(1.0,1)" font-size="11" font-weight="bold" fill="#000">E</text>
<path d="M212.1 207.5V315.8H318.4" stroke="#262626" stroke-width="1.45" fill="none"/>
<text transform="translate(205.8,318.55) scale(0.8,1)" text-anchor="end" font-size="9.6" fill="#1a1a1a" stroke="#1a1a1a" stroke-width="0.15">0</text>
<text transform="translate(205.8,297.39) scale(0.8,1)" text-anchor="end" font-size="9.6" fill="#1a1a1a" stroke="#1a1a1a" stroke-width="0.15">20</text>
<text transform="translate(205.8,276.23) scale(0.8,1)" text-anchor="end" font-size="9.6" fill="#1a1a1a" stroke="#1a1a1a" stroke-width="0.15">40</text>
<text transform="translate(205.8,255.07) scale(0.8,1)" text-anchor="end" font-size="9.6" fill="#1a1a1a" stroke="#1a1a1a" stroke-width="0.15">60</text>
<text transform="translate(205.8,233.91) scale(0.8,1)" text-anchor="end" font-size="9.6" fill="#1a1a1a" stroke="#1a1a1a" stroke-width="0.15">80</text>
<text transform="translate(205.8,212.75) scale(0.8,1)" text-anchor="end" font-size="9.6" fill="#1a1a1a" stroke="#1a1a1a" stroke-width="0.15">100</text>
<path d="M208.9 315.8H212.1M208.9 294.64H212.1M208.9 273.48H212.1M208.9 252.32H212.1M208.9 231.16H212.1M208.9 210H212.1M221.6 315.8V319.1M236.07 315.8V319.1M250.54 315.8V319.1M265.01 315.8V319.1M279.48 315.8V319.1M293.95 315.8V319.1M308.42 315.8V319.1" stroke="#262626" stroke-width="1.0" fill="none"/>
<text transform="translate(226.2,326.2) rotate(-45) scale(0.83,1)" text-anchor="end" font-size="9.6" fill="#1a1a1a" stroke="#1a1a1a" stroke-width="0.15">0</text>
<text transform="translate(240.67,326.2) rotate(-45) scale(0.83,1)" text-anchor="end" font-size="9.6" fill="#1a1a1a" stroke="#1a1a1a" stroke-width="0.15">2.0/5.9</text>
<text transform="translate(255.14,326.2) rotate(-45) scale(0.83,1)" text-anchor="end" font-size="9.6" fill="#1a1a1a" stroke="#1a1a1a" stroke-width="0.15">3.9/11.7</text>
<text transform="translate(269.61,326.2) rotate(-45) scale(0.83,1)" text-anchor="end" font-size="9.6" fill="#1a1a1a" stroke="#1a1a1a" stroke-width="0.15">7.8/23.4</text>
<text transform="translate(284.08,326.2) rotate(-45) scale(0.83,1)" text-anchor="end" font-size="9.6" fill="#1a1a1a" stroke="#1a1a1a" stroke-width="0.15">15.6/46.9</text>
<text transform="translate(298.55,326.2) rotate(-45) scale(0.83,1)" text-anchor="end" font-size="9.6" fill="#1a1a1a" stroke="#1a1a1a" stroke-width="0.15">31.3/93.8</text>
<text transform="translate(313.02,326.2) rotate(-45) scale(0.83,1)" text-anchor="end" font-size="9.6" fill="#1a1a1a" stroke="#1a1a1a" stroke-width="0.15">62.5/187.5</text>
<text transform="translate(265.6,368) scale(0.76,1)" text-anchor="middle" font-size="10" fill="#1a1a1a" stroke="#1a1a1a" stroke-width="0.12">ABT199/S63 - A13</text>
<text transform="translate(265.6,379.6) scale(0.81,1)" text-anchor="middle" font-size="10" fill="#1a1a1a" stroke="#1a1a1a" stroke-width="0.12">(nM - nM)</text>
<text transform="translate(187.3,261.3) rotate(-90) scale(0.755,1)" text-anchor="middle" font-size="10.4" fill="#1a1a1a" stroke="#1a1a1a" stroke-width="0.18">Viability (%)</text>
<polyline points="221.6,219.6 236.07,221.5 250.54,221.2 265.01,222 279.48,221.5 293.95,220 308.42,221.5" fill="none" stroke="#5fb035" stroke-width="1.15" stroke-linejoin="round"/>
<path d="M221.6 222.18L223.95 217.88L219.25 217.88Z" fill="#5fb035"/>
<path d="M236.07 224.08L238.42 219.78L233.72 219.78Z" fill="#5fb035"/>
<path d="M250.54 223.78L252.89 219.48L248.19 219.48Z" fill="#5fb035"/>
<path d="M265.01 224.58L267.36 220.28L262.66 220.28Z" fill="#5fb035"/>
<path d="M279.48 224.08L281.83 219.78L277.13 219.78Z" fill="#5fb035"/>
<path d="M293.95 222.58L296.3 218.28L291.6 218.28Z" fill="#5fb035"/>
<path d="M308.42 224.08L310.77 219.78L306.07 219.78Z" fill="#5fb035"/>
<polyline points="221.6,219.8 236.07,221.5 250.54,221.2 265.01,222.5 279.48,224.4 293.95,223.5 308.42,224.4" fill="none" stroke="#ba0c38" stroke-width="1.15" stroke-linejoin="round"/>
<path d="M221.6 217.22L223.95 221.52L219.25 221.52Z" fill="#ba0c38"/>
<path d="M236.07 218.92L238.42 223.22L233.72 223.22Z" fill="#ba0c38"/>
<path d="M250.54 218.62L252.89 222.92L248.19 222.92Z" fill="#ba0c38"/>
<path d="M265.01 219.92L267.36 224.22L262.66 224.22Z" fill="#ba0c38"/>
<path d="M279.48 221.82L281.83 226.12L277.13 226.12Z" fill="#ba0c38"/>
<path d="M293.95 220.92L296.3 225.22L291.6 225.22Z" fill="#ba0c38"/>
<path d="M308.42 221.82L310.77 226.12L306.07 226.12Z" fill="#ba0c38"/>
<polyline points="221.6,219.6 236.07,221.5 250.54,221.2 265.01,222.5 279.48,222.5 293.95,222.5 308.42,222.1" fill="none" stroke="#501e6e" stroke-width="1.15" stroke-linejoin="round"/>
<rect x="219.6" y="217.6" width="4.0" height="4.0" fill="#501e6e"/>
<rect x="234.07" y="219.5" width="4.0" height="4.0" fill="#501e6e"/>
<rect x="248.54" y="219.2" width="4.0" height="4.0" fill="#501e6e"/>
<rect x="263.01" y="220.5" width="4.0" height="4.0" fill="#501e6e"/>
<rect x="277.48" y="220.5" width="4.0" height="4.0" fill="#501e6e"/>
<rect x="291.95" y="220.5" width="4.0" height="4.0" fill="#501e6e"/>
<rect x="306.42" y="220.1" width="4.0" height="4.0" fill="#501e6e"/>
<polyline points="221.6,220.5 236.07,232.5 250.54,243.7 265.01,267.7 279.48,285.1 293.95,301.9 308.42,308.3" fill="none" stroke="#454d5e" stroke-width="1.15" stroke-linejoin="round"/>
<path d="M236.07 227.7V238M233.97 227.7H238.17M233.97 238H238.17" stroke="#454d5e" stroke-width="0.9" fill="none"/>
<path d="M250.54 234.9V253.6M248.44 234.9H252.64M248.44 253.6H252.64" stroke="#454d5e" stroke-width="0.9" fill="none"/>
<path d="M265.01 257.1V277.2M262.91 257.1H267.11M262.91 277.2H267.11" stroke="#454d5e" stroke-width="0.9" fill="none"/>
<path d="M279.48 278.7V291.6M277.38 278.7H281.58M277.38 291.6H281.58" stroke="#454d5e" stroke-width="0.9" fill="none"/>
<path d="M293.95 298.8V304.7M291.85 298.8H296.05M291.85 304.7H296.05" stroke="#454d5e" stroke-width="0.9" fill="none"/>
<path d="M308.42 307V311M306.32 307H310.52M306.32 311H310.52" stroke="#454d5e" stroke-width="0.9" fill="none"/>
<path d="M219.1 220.5L224.1 220.5M219.83 218.73L223.37 222.27M221.6 218L221.6 223M223.37 218.73L219.83 222.27" stroke="#454d5e" stroke-width="0.9" fill="none"/>
<circle cx="221.6" cy="220.5" r="1.1" fill="#454d5e"/>
<path d="M233.57 232.5L238.57 232.5M234.3 230.73L237.84 234.27M236.07 230L236.07 235M237.84 230.73L234.3 234.27" stroke="#454d5e" stroke-width="0.9" fill="none"/>
<circle cx="236.07" cy="232.5" r="1.1" fill="#454d5e"/>
<path d="M248.04 243.7L253.04 243.7M248.77 241.93L252.31 245.47M250.54 241.2L250.54 246.2M252.31 241.93L248.77 245.47" stroke="#454d5e" stroke-width="0.9" fill="none"/>
<circle cx="250.54" cy="243.7" r="1.1" fill="#454d5e"/>
<path d="M262.51 267.7L267.51 267.7M263.24 265.93L266.78 269.47M265.01 265.2L265.01 270.2M266.78 265.93L263.24 269.47" stroke="#454d5e" stroke-width="0.9" fill="none"/>
<circle cx="265.01" cy="267.7" r="1.1" fill="#454d5e"/>
<path d="M276.98 285.1L281.98 285.1M277.71 283.33L281.25 286.87M279.48 282.6L279.48 287.6M281.25 283.33L277.71 286.87" stroke="#454d5e" stroke-width="0.9" fill="none"/>
<circle cx="279.48" cy="285.1" r="1.1" fill="#454d5e"/>
<path d="M291.45 301.9L296.45 301.9M292.18 300.13L295.72 303.67M293.95 299.4L293.95 304.4M295.72 300.13L292.18 303.67" stroke="#454d5e" stroke-width="0.9" fill="none"/>
<circle cx="293.95" cy="301.9" r="1.1" fill="#454d5e"/>
<path d="M305.92 308.3L310.92 308.3M306.65 306.53L310.19 310.07M308.42 305.8L308.42 310.8M310.19 306.53L306.65 310.07" stroke="#454d5e" stroke-width="0.9" fill="none"/>
<circle cx="308.42" cy="308.3" r="1.1" fill="#454d5e"/>
<polyline points="221.6,227.2 236.07,285.8 250.54,297.8 265.01,306.6 279.48,309 293.95,310.4 308.42,310.7" fill="none" stroke="#1f408c" stroke-width="1.15" stroke-linejoin="round"/>
<path d="M221.6 223.8V230.6M219.5 223.8H223.7M219.5 230.6H223.7" stroke="#1f408c" stroke-width="0.9" fill="none"/>
<path d="M236.07 279.6V293M233.97 279.6H238.17M233.97 293H238.17" stroke="#1f408c" stroke-width="0.9" fill="none"/>
<path d="M250.54 292.3V303.5M248.44 292.3H252.64M248.44 303.5H252.64" stroke="#1f408c" stroke-width="0.9" fill="none"/>
<path d="M265.01 303.5V309.5M262.91 303.5H267.11M262.91 309.5H267.11" stroke="#1f408c" stroke-width="0.9" fill="none"/>
<circle cx="221.6" cy="227.2" r="2.05" fill="#1f408c"/>
<circle cx="236.07" cy="285.8" r="2.05" fill="#1f408c"/>
<circle cx="250.54" cy="297.8" r="2.05" fill="#1f408c"/>
<circle cx="265.01" cy="306.6" r="2.05" fill="#1f408c"/>
<circle cx="279.48" cy="309" r="2.05" fill="#1f408c"/>
<circle cx="293.95" cy="310.4" r="2.05" fill="#1f408c"/>
<circle cx="308.42" cy="310.7" r="2.05" fill="#1f408c"/>
<rect x="219.6" y="217.6" width="4.0" height="4.0" fill="#501e6e"/>
<path d="M321.6 221.5H335" stroke="#1f408c" stroke-width="1"/>
<circle cx="328.3" cy="221.5" r="2.3" fill="#1f408c"/>
<text x="338.0" y="224.3" font-size="7.7" fill="#222">3T3 ABT199</text>
<path d="M321.6 232.5H335" stroke="#501e6e" stroke-width="1"/>
<rect x="326" y="230.2" width="4.6" height="4.6" fill="#501e6e"/>
<text x="338.0" y="235.3" font-size="7.7" fill="#222">3T40L ABT199</text>
<path d="M321.6 244.5H335" stroke="#ba0c38" stroke-width="1"/>
<path d="M328.3 241.74L330.8 246.34L325.8 246.34Z" fill="#ba0c38"/>
<text x="338.0" y="247.3" font-size="7.7" fill="#222">3T40L A13</text>
<path d="M321.6 255.5H335" stroke="#5fb035" stroke-width="1"/>
<path d="M328.3 258.26L330.8 253.66L325.8 253.66Z" fill="#5fb035"/>
<text x="338.0" y="258.3" font-size="7.7" fill="#222">3T40L S63</text>
<path d="M321.6 267.4H335" stroke="#df8d12" stroke-width="1"/>
<path d="M328.3 264.4L331 269.4L325.6 269.4Z" fill="#fff" stroke="#df8d12" stroke-width="0.8"/>
<text x="338.0" y="270.2" font-size="7.7" fill="#222">3T40L ABT199 + A13</text>
<path d="M321.6 278.5H335" stroke="#225c3c" stroke-width="1"/>
<path d="M328.3 281.5L331 276.5L325.6 276.5Z" fill="#fff" stroke="#225c3c" stroke-width="0.8"/>
<text x="338.0" y="281.3" font-size="7.7" fill="#222">3T40L ABT199 + S63</text>
<path d="M321.6 290H335" stroke="#7a69bd" stroke-width="1"/>
<circle cx="328.3" cy="290" r="2.3" fill="#fff" stroke="#7a69bd" stroke-width="0.8"/>
<path d="M328.3 287.7A2.3 2.3 0 0 1 328.3 292.3Z" fill="#7a69bd"/>
<text x="338.0" y="292.8" font-size="7.7" fill="#222">3T40L A13 + S63</text>
<path d="M321.6 301.5H335" stroke="#454d5e" stroke-width="1"/>
<path d="M325.8 301.5L330.8 301.5M326.53 299.73L330.07 303.27M328.3 299L328.3 304M330.07 299.73L326.53 303.27" stroke="#454d5e" stroke-width="0.9" fill="none"/>
<circle cx="328.3" cy="301.5" r="1.1" fill="#454d5e"/>
<text x="338.0" y="304.3" font-size="7.7" fill="#222">3T40L ABT199 + A13 + S63</text>
<text transform="translate(7.6,395.2) scale(1.0,1)" font-size="11" font-weight="bold" fill="#000">F</text>
<rect x="144.8" y="412.3" width="67.4" height="12.8" fill="#f0d4d7"/>
<rect x="211.6" y="412.3" width="64.3" height="12.8" fill="#faf7f9"/>
<rect x="275.3" y="412.3" width="52.1" height="12.8" fill="#fbfafc"/>
<rect x="326.8" y="412.3" width="88" height="12.8" fill="#d57a7e"/>
<rect x="144.8" y="424.5" width="67.4" height="12.6" fill="#e8b9bc"/>
<rect x="211.6" y="424.5" width="64.3" height="12.6" fill="#f6ecee"/>
<rect x="275.3" y="424.5" width="52.1" height="12.6" fill="#f5e6e8"/>
<rect x="326.8" y="424.5" width="88" height="12.6" fill="#d16a6e"/>
<rect x="144.8" y="436.5" width="67.4" height="12.5" fill="#e1a2a5"/>
<rect x="211.6" y="436.5" width="64.3" height="12.5" fill="#f2dcdf"/>
<rect x="275.3" y="436.5" width="52.1" height="12.5" fill="#ebc5c7"/>
<rect x="326.8" y="436.5" width="88" height="12.5" fill="#cf6468"/>
<rect x="144.8" y="448.4" width="67.4" height="12.7" fill="#de989c"/>
<rect x="211.6" y="448.4" width="64.3" height="12.7" fill="#eac1c4"/>
<rect x="275.3" y="448.4" width="52.1" height="12.7" fill="#dc9295"/>
<rect x="326.8" y="448.4" width="88" height="12.7" fill="#cf666a"/>
<rect x="144.8" y="460.5" width="67.4" height="12.7" fill="#da8c8f"/>
<rect x="211.6" y="460.5" width="64.3" height="12.7" fill="#e2a7aa"/>
<rect x="275.3" y="460.5" width="52.1" height="12.7" fill="#d37175"/>
<rect x="326.8" y="460.5" width="88" height="12.7" fill="#cf666a"/>
<path d="M15.6 412.3H144.8M15.6 424.5H144.8M15.6 436.5H144.8M15.6 448.4H144.8M15.6 460.5H144.8" stroke="#333" stroke-width="0.9" fill="none"/>
<path d="M144.8 412.3H414.2" stroke="#333" stroke-width="1" fill="none"/>
<path d="M94.9 399.7V472.6M144.8 399.7V472.6M211.6 399.7V412.3M275.3 399.7V412.3M326.8 399.7V412.3" stroke="#999" stroke-width="1.4" fill="none"/>
<rect x="15.6" y="399.7" width="398.6" height="72.9" fill="none" stroke="#333" stroke-width="1"/>
<text x="55.25" y="409.5" text-anchor="middle" font-size="8.2" fill="#111" stroke="#111" stroke-width="0.12">ABT199/S63 (nM)</text>
<text x="119.85" y="409.5" text-anchor="middle" font-size="8.2" fill="#111" stroke="#111" stroke-width="0.12">A13 (nM)</text>
<text x="178.2" y="409.5" text-anchor="middle" font-size="8.2" fill="#111" stroke="#111" stroke-width="0.12">ABT199 + A13</text>
<text x="243.45" y="409.5" text-anchor="middle" font-size="8.2" fill="#111" stroke="#111" stroke-width="0.12">ABT199 + S63</text>
<text x="301.05" y="409.5" text-anchor="middle" font-size="8.2" fill="#111" stroke="#111" stroke-width="0.12">A13 + S63</text>
<text x="370.5" y="409.5" text-anchor="middle" font-size="8.2" fill="#111" stroke="#111" stroke-width="0.12">ABT199 + A13 + S63</text>
<text x="54.95" y="421.8" text-anchor="middle" font-size="8.2" fill="#111" stroke="#111" stroke-width="0.06">62.5</text>
<text x="119.55" y="421.8" text-anchor="middle" font-size="8.2" fill="#111" stroke="#111" stroke-width="0.06">187.5</text>
<text x="177.9" y="421.8" text-anchor="middle" font-size="8.2" fill="#111" stroke="#111" stroke-width="0.06">0.73</text>
<text x="243.15" y="421.8" text-anchor="middle" font-size="8.2" fill="#111" stroke="#111" stroke-width="0.06">0.95</text>
<text x="300.75" y="421.8" text-anchor="middle" font-size="8.2" fill="#111" stroke="#111" stroke-width="0.06">0.97</text>
<text x="370.2" y="421.8" text-anchor="middle" font-size="8.2" fill="#111" stroke="#111" stroke-width="0.06">0.16</text>
<text x="54.95" y="434" text-anchor="middle" font-size="8.2" fill="#111" stroke="#111" stroke-width="0.06">125</text>
<text x="119.55" y="434" text-anchor="middle" font-size="8.2" fill="#111" stroke="#111" stroke-width="0.06">375</text>
<text x="177.9" y="434" text-anchor="middle" font-size="8.2" fill="#111" stroke="#111" stroke-width="0.06">0.56</text>
<text x="243.15" y="434" text-anchor="middle" font-size="8.2" fill="#111" stroke="#111" stroke-width="0.06">0.88</text>
<text x="300.75" y="434" text-anchor="middle" font-size="8.2" fill="#111" stroke="#111" stroke-width="0.06">0.84</text>
<text x="370.2" y="434" text-anchor="middle" font-size="8.2" fill="#111" stroke="#111" stroke-width="0.06">0.06</text>
<text x="54.95" y="446" text-anchor="middle" font-size="8.2" fill="#111" stroke="#111" stroke-width="0.06">250</text>
<text x="119.55" y="446" text-anchor="middle" font-size="8.2" fill="#111" stroke="#111" stroke-width="0.06">750</text>
<text x="177.9" y="446" text-anchor="middle" font-size="8.2" fill="#111" stroke="#111" stroke-width="0.06">0.41</text>
<text x="243.15" y="446" text-anchor="middle" font-size="8.2" fill="#111" stroke="#111" stroke-width="0.06">0.78</text>
<text x="300.75" y="446" text-anchor="middle" font-size="8.2" fill="#111" stroke="#111" stroke-width="0.06">0.63</text>
<text x="370.2" y="446" text-anchor="middle" font-size="8.2" fill="#111" stroke="#111" stroke-width="0.06">0.02</text>
<text x="54.95" y="457.9" text-anchor="middle" font-size="8.2" fill="#111" stroke="#111" stroke-width="0.06">500</text>
<text x="119.55" y="457.9" text-anchor="middle" font-size="8.2" fill="#111" stroke="#111" stroke-width="0.06">1500</text>
<text x="177.9" y="457.9" text-anchor="middle" font-size="8.2" fill="#111" stroke="#111" stroke-width="0.06">0.35</text>
<text x="243.15" y="457.9" text-anchor="middle" font-size="8.2" fill="#111" stroke="#111" stroke-width="0.06">0.61</text>
<text x="300.75" y="457.9" text-anchor="middle" font-size="8.2" fill="#111" stroke="#111" stroke-width="0.06">0.31</text>
<text x="370.2" y="457.9" text-anchor="middle" font-size="8.2" fill="#111" stroke="#111" stroke-width="0.06">0.03</text>
<text x="54.95" y="470" text-anchor="middle" font-size="8.2" fill="#111" stroke="#111" stroke-width="0.06">1000</text>
<text x="119.55" y="470" text-anchor="middle" font-size="8.2" fill="#111" stroke="#111" stroke-width="0.06">3000</text>
<text x="177.9" y="470" text-anchor="middle" font-size="8.2" fill="#111" stroke="#111" stroke-width="0.06">0.27</text>
<text x="243.15" y="470" text-anchor="middle" font-size="8.2" fill="#111" stroke="#111" stroke-width="0.06">0.44</text>
<text x="300.75" y="470" text-anchor="middle" font-size="8.2" fill="#111" stroke="#111" stroke-width="0.06">0.10</text>
<text x="370.2" y="470" text-anchor="middle" font-size="8.2" fill="#111" stroke="#111" stroke-width="0.06">0.03</text>
<text x="430.6" y="411" font-size="8.5" fill="#222">Combination index:</text>
<path d="M430.6 412.6H508.5" stroke="#8d5fa8" stroke-width="0.8"/>
<defs><linearGradient id="cg" x1="0" y1="0" x2="0" y2="1"><stop offset="0" stop-color="#d27078"/><stop offset="0.3" stop-color="#dc9096"/><stop offset="0.55" stop-color="#eecfd2"/><stop offset="0.67" stop-color="#fbf6f7"/><stop offset="0.71" stop-color="#fff"/><stop offset="0.725" stop-color="#aabde2"/><stop offset="1" stop-color="#7493c8"/></linearGradient></defs>
<rect x="431.4" y="423.6" width="6" height="40.5" fill="url(#cg)"/>
<text x="441.2" y="434.1" font-size="8.2" fill="#222">&lt; 0.80 synergy</text>
<text x="441.2" y="455.6" font-size="8.45" fill="#222">&gt; 1.20 antagonism</text>
<rect x="0.5" y="0.5" width="519" height="480" fill="none" stroke="#000" stroke-width="1.2"/>
</svg>
</body></html>
